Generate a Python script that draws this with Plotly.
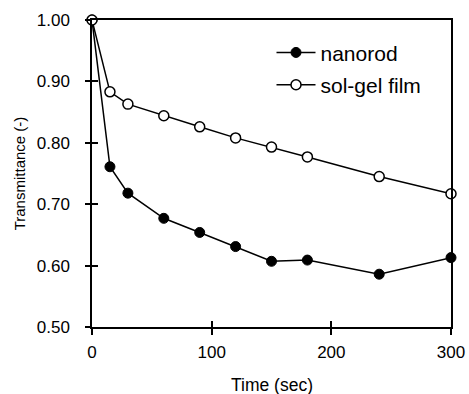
import plotly.graph_objects as go

time_nanorod = [0, 15, 30, 60, 90, 120, 150, 180, 240, 300]
trans_nanorod = [1.00, 0.761, 0.718, 0.677, 0.654, 0.631, 0.607, 0.609, 0.586, 0.613]
time_solgel = [0, 15, 30, 60, 90, 120, 150, 180, 240, 300]
trans_solgel = [1.00, 0.883, 0.863, 0.844, 0.826, 0.808, 0.793, 0.777, 0.745, 0.717]
x_ticks = [0, 100, 200, 300]
y_ticks = [0.5, 0.6, 0.7, 0.8, 0.9, 1.0]
y_ticklabels = ["0.50", "0.60", "0.70", "0.80", "0.90", "1.00"]

FONT = "Liberation Sans, Arial, Helvetica, sans-serif"

fig = go.Figure()
fig.add_trace(go.Scatter(
    x=time_nanorod, y=trans_nanorod, name="nanorod", mode="lines+markers",
    legendgroup="a",
    line=dict(color="black", width=1.5),
    marker=dict(symbol="circle", size=10, color="black", line=dict(color="black", width=1)),
    cliponaxis=False,
))
fig.add_trace(go.Scatter(
    x=time_solgel, y=trans_solgel, name="sol-gel film", mode="lines+markers",
    legendgroup="b",
    line=dict(color="black", width=1.5),
    marker=dict(symbol="circle", size=10, color="white", line=dict(color="black", width=1.5)),
    cliponaxis=False,
))
# empty trace to carry the inside-tick overlay axes
fig.add_trace(go.Scatter(x=[], y=[], xaxis="x2", yaxis="y2", showlegend=False, hoverinfo="skip"))

axis_common = dict(showgrid=False, zeroline=False, linecolor="black", linewidth=1.5,
                   tickcolor="black", tickwidth=1.5, automargin=False)

fig.update_layout(
    width=469, height=394,
    margin=dict(l=92, r=18, t=20, b=67, autoexpand=False),
    paper_bgcolor="white", plot_bgcolor="white",
    font=dict(family=FONT, color="black", size=17),
    showlegend=True,
    legend=dict(x=0.5, y=0.96, xanchor="left", yanchor="top", bgcolor="rgba(0,0,0,0)",
                font=dict(size=21, family=FONT), tracegroupgap=2, itemwidth=39),
    xaxis=dict(range=[0, 300], tickvals=x_ticks, ticks="outside", ticklen=6,
               mirror=True, showline=True, ticklabelstandoff=3,
               tickfont=dict(size=17), **axis_common),
    yaxis=dict(range=[0.5, 1.0], tickvals=y_ticks, ticktext=y_ticklabels, ticks="outside",
               ticklen=5, mirror=True, showline=True, ticklabelstandoff=12,
               title=dict(text="Transmittance (-)", font=dict(size=15), standoff=8),
               tickfont=dict(size=17), **axis_common),
    xaxis2=dict(range=[0, 300], tickvals=x_ticks, ticks="inside", ticklen=6,
                overlaying="x", showticklabels=False, showline=False, anchor="y2",
                showgrid=False, zeroline=False, tickcolor="black", tickwidth=1.5, automargin=False),
    yaxis2=dict(range=[0.5, 1.0], tickvals=y_ticks, ticks="inside", ticklen=6,
                overlaying="y", showticklabels=False, showline=False, anchor="x2",
                showgrid=False, zeroline=False, tickcolor="black", tickwidth=1.5, automargin=False),
    annotations=[dict(text="Time (sec)", xref="paper", yref="paper", x=0.5, y=0,
                      xanchor="center", yanchor="middle", yshift=-58, showarrow=False,
                      font=dict(size=17.5, family=FONT, color="black"))],
)

fig.write_html("out.html")
